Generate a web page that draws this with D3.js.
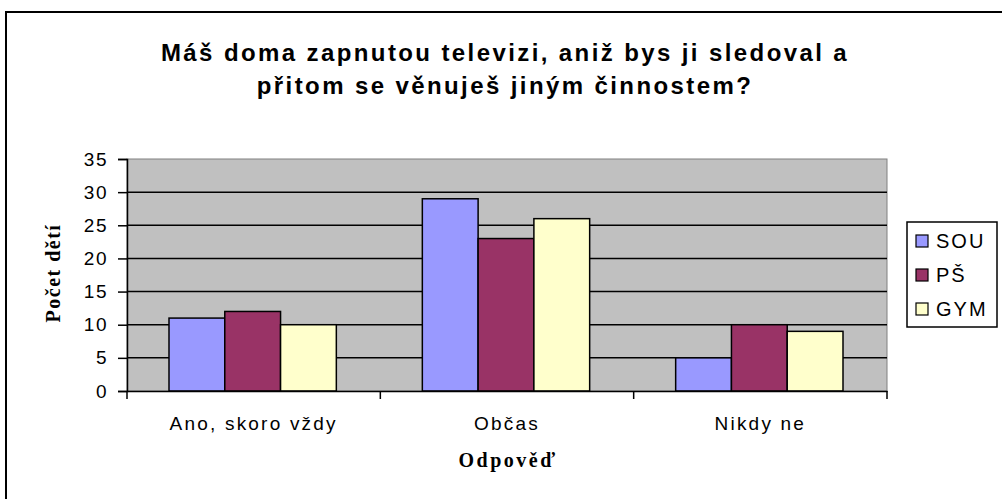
<!DOCTYPE html>
<html>
<head>
<meta charset="utf-8">
<script src="https://cdn.jsdelivr.net/npm/d3@7"></script>
<style>
    body { margin: 0; background: #fff; }
    svg { display: block; }
</style>
</head>
<body>
<svg id="chart" width="1002" height="499"></svg>
<script>
const categories = ["Ano, skoro vždy", "Občas", "Nikdy ne"];
const series = ["SOU", "PŠ", "GYM"];
const sou = [11, 29, 5];
const ps = [12, 23, 10];
const gym = [10, 26, 9];
const yTicks = [0, 5, 10, 15, 20, 25, 30, 35];
const titleLines = ["Máš doma zapnutou televizi, aniž bys ji sledoval a",
                    "přitom se věnuješ jiným činnostem?"];

const colors = ["#9999ff", "#993366", "#ffffcc"];
const values = [sou, ps, gym];

const sans = "Liberation Sans, Arial, sans-serif";
const serif = "Liberation Serif, Times New Roman, serif";

const svg = d3.select("#chart");
const plot = { left: 127, top: 159, right: 887, bottom: 391 };

// outer chart border (only top / left visible in the frame)
svg.append("rect")
    .attr("x", 6).attr("y", 12)
    .attr("width", 1100).attr("height", 600)
    .attr("fill", "#fff")
    .attr("stroke", "#000")
    .attr("stroke-width", 2);

svg.append("g")
    .selectAll("text")
    .data(titleLines)
    .enter()
    .append("text")
    .attr("x", 505)
    .attr("y", (d, i) => 61 + i * 33)
    .attr("text-anchor", "middle")
    .style("font-family", sans)
    .style("font-weight", "bold")
    .style("font-size", "24px")
    .style("letter-spacing", "2.4px")
    .text(d => d);

const x = d3.scaleBand()
    .domain(categories)
    .range([plot.left, plot.right]);

const xInner = d3.scaleBand()
    .domain(series)
    .range([42, x.bandwidth() - 44]);

const y = d3.scaleLinear()
    .domain([0, 35])
    .range([plot.bottom, plot.top]);

// plot background
svg.append("rect")
    .attr("x", plot.left).attr("y", plot.top)
    .attr("width", plot.right - plot.left)
    .attr("height", plot.bottom - plot.top)
    .attr("fill", "#c0c0c0")
    .attr("stroke", "#808080")
    .attr("stroke-width", 1);

// gridlines
svg.append("g")
    .selectAll("line")
    .data(yTicks.filter(t => t > 0 && t < 35))
    .enter()
    .append("line")
    .attr("x1", plot.left).attr("x2", plot.right)
    .attr("y1", d => y(d)).attr("y2", d => y(d))
    .attr("stroke", "#000")
    .attr("stroke-width", 1.5);

// bars
series.forEach(function (s, si) {
    svg.append("g")
        .selectAll("rect")
        .data(values[si])
        .enter()
        .append("rect")
        .attr("x", (d, i) => x(categories[i]) + xInner(s))
        .attr("y", d => y(d))
        .attr("width", xInner.bandwidth())
        .attr("height", d => y(0) - y(d))
        .attr("fill", colors[si])
        .attr("stroke", "#000")
        .attr("stroke-width", 1.5);
});

// y axis
const yAxis = svg.append("g")
    .attr("transform", `translate(${plot.left},0)`)
    .call(d3.axisLeft(y).tickValues(yTicks).tickSize(9).tickPadding(10));
yAxis.selectAll("path, line").attr("stroke", "#000").attr("stroke-width", 1.5);
yAxis.selectAll("text")
    .style("font-family", sans)
    .style("font-size", "19px")
    .style("letter-spacing", "1.5px")
    .attr("fill", "#000");

// x axis
const xAxis = svg.append("g")
    .attr("transform", `translate(0,${plot.bottom})`)
    .call(d3.axisBottom(x).tickSize(0).tickPadding(0));
xAxis.select(".domain").attr("stroke", "#000").attr("stroke-width", 1.5);
xAxis.selectAll("text")
    .attr("y", 39)
    .attr("dy", 0)
    .style("font-family", sans)
    .style("font-size", "19px")
    .style("letter-spacing", "2.2px")
    .attr("fill", "#000");
// category separator ticks
svg.append("g")
    .selectAll("line")
    .data(categories.concat(["end"]).map((c, i) => plot.left + i * x.bandwidth()))
    .enter()
    .append("line")
    .attr("x1", d => d).attr("x2", d => d)
    .attr("y1", plot.bottom).attr("y2", plot.bottom + 8)
    .attr("stroke", "#000")
    .attr("stroke-width", 1.5);

// axis titles
svg.append("text")
    .attr("transform", "translate(60,273) rotate(-90)")
    .attr("text-anchor", "middle")
    .style("font-family", serif)
    .style("font-weight", "bold")
    .style("font-size", "20px")
    .style("letter-spacing", "1.5px")
    .text("Počet dětí");

svg.append("text")
    .attr("x", 508)
    .attr("y", 467)
    .attr("text-anchor", "middle")
    .style("font-family", serif)
    .style("font-weight", "bold")
    .style("font-size", "20px")
    .style("letter-spacing", "2.5px")
    .text("Odpověď");

// legend
const legend = svg.append("g").attr("transform", "translate(907,222)");
legend.append("rect")
    .attr("width", 90).attr("height", 105)
    .attr("fill", "#fff")
    .attr("stroke", "#000")
    .attr("stroke-width", 1.5);
const items = legend.selectAll("g.item")
    .data(series)
    .enter()
    .append("g")
    .attr("class", "item")
    .attr("transform", (d, i) => `translate(9,${19 + i * 34})`);
items.append("rect")
    .attr("y", -6)
    .attr("width", 12).attr("height", 12)
    .attr("fill", (d, i) => colors[i])
    .attr("stroke", "#000")
    .attr("stroke-width", 1.2);
items.append("text")
    .attr("x", 20)
    .attr("y", 7)
    .style("font-family", sans)
    .style("font-size", "20px")
    .style("letter-spacing", "2px")
    .text(d => d);
</script>
</body>
</html>
